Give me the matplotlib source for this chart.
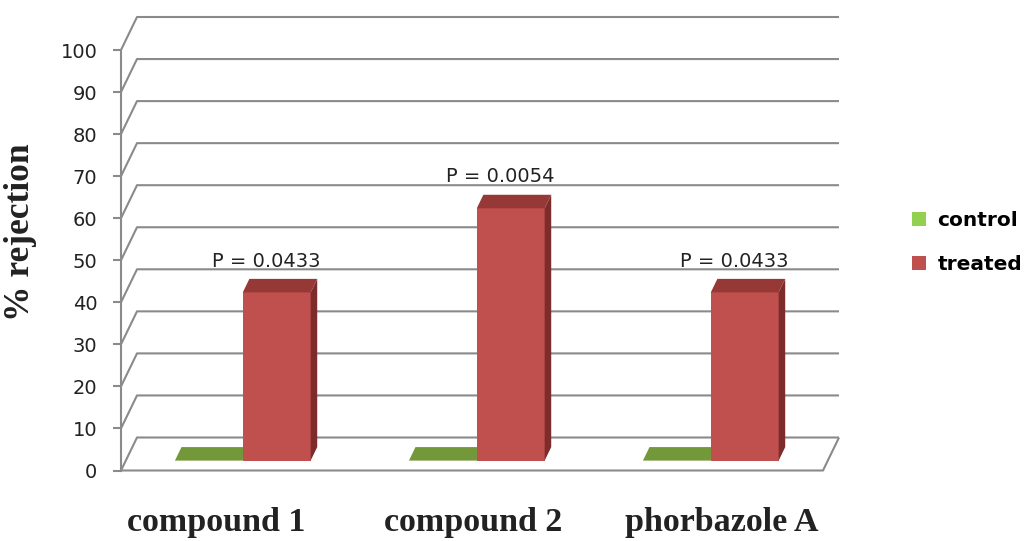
"""Pseudo-3D grouped bar chart: % rejection, control vs treated.

Excel-style oblique 3D look built from plain 2D bars + polygons.
"""
import matplotlib
matplotlib.use("Agg")
import matplotlib.pyplot as plt
from matplotlib.patches import Patch, Polygon

# ---- data ----
categories = ["compound 1", "compound 2", "phorbazole A"]
series_names = ["control", "treated"]
control = [0, 0, 0]
treated = [40, 60, 40]
p_values = ["P = 0.0433", "P = 0.0054", "P = 0.0433"]
y_ticks = list(range(0, 101, 10))

# ---- geometry (data units) ----
X_PX = 234.0          # pixels per category slot
Y_PX = 4.205          # pixels per % unit
DX = 16 / X_PX        # oblique shift for the full depth of the box
DY = 33 / Y_PX
BAR_W = 0.29
D_FRONT, D_BACK = 0.30, 0.71   # depth range the bars occupy

GRID = "#8a8a8a"
COLORS = {
    "control": ("#9BBB59", "#73983A", "#5E7D2E"),
    "treated": ("#C0504D", "#953836", "#7C2C2A"),
}
LEGEND_COLORS = ["#92D050", "#C0504D"]


def draw_box(ax, x0, h, face, top, side):
    """Bar at front-plane x0 with height h, drawn as front/side/top faces."""
    left = x0 + D_FRONT * DX
    base = D_FRONT * DY
    ddx = (D_BACK - D_FRONT) * DX
    ddy = (D_BACK - D_FRONT) * DY
    right = left + BAR_W
    if h > 0:
        ax.bar(left, h, BAR_W, bottom=base, align="edge", color=face,
               linewidth=0, zorder=3)
        ax.add_patch(Polygon([(right, base), (right + ddx, base + ddy),
                              (right + ddx, base + h + ddy), (right, base + h)],
                             closed=True, facecolor=side, lw=0, zorder=3))
    ax.add_patch(Polygon([(left, base + h), (right, base + h),
                          (right + ddx, base + h + ddy), (left + ddx, base + h + ddy)],
                         closed=True, facecolor=top, lw=0, zorder=3))


def main():
    n = len(categories)
    fig = plt.figure(figsize=(10.24, 5.41), dpi=100)
    ax = fig.add_axes([0, 0, 1, 1])
    ax.set_xlim(-121 / X_PX, (1024 - 121) / X_PX)
    ax.set_ylim(-(541 - 470.5) / Y_PX, 470.5 / Y_PX)

    # back wall gridlines + left wall diagonals
    grid_kw = dict(color=GRID, lw=1.5, zorder=1, solid_capstyle="butt")
    for v in y_ticks:
        ax.plot([0, DX, n + DX], [v, v + DY, v + DY], **grid_kw)
    # floor front edge and right edge
    ax.plot([0, n, n + DX], [0, 0, DY], **grid_kw)

    # front value axis
    for s in ["top", "right", "bottom"]:
        ax.spines[s].set_visible(False)
    ax.spines["left"].set_position(("data", 0))
    ax.spines["left"].set_bounds(0, 100)
    ax.spines["left"].set_color(GRID)
    ax.spines["left"].set_linewidth(1.5)
    ax.set_yticks(y_ticks)
    ax.tick_params(axis="y", length=6, width=1.5, color=GRID, pad=11,
                   labelsize=14, labelcolor="#222222")
    ax.set_xticks([])

    # bars
    for i in range(n):
        draw_box(ax, i + 0.5 - BAR_W, control[i], *COLORS["control"])
        draw_box(ax, i + 0.5, treated[i], *COLORS["treated"])
        ax.text(i + 0.5 + BAR_W / 2 - 0.045 + D_FRONT * DX, treated[i] + 8.5,
                p_values[i], ha="center", va="baseline", fontsize=14,
                color="#222222")

    # category labels
    label_x = [0.408, 1.506, 2.566]
    for x, name in zip(label_x, categories):
        ax.text(x, -14.4, name, ha="center", va="baseline", fontsize=24.5,
                fontweight="bold", family="Liberation Serif", color="#222222")

    # y label
    ax.text((20 - 121) / X_PX, (470.5 - 232) / Y_PX, "% rejection", rotation=90,
            ha="center", va="center", fontsize=25.5, fontweight="bold",
            family="Liberation Serif", color="#222222")

    handles = [Patch(facecolor=c, edgecolor="none", label=s)
               for s, c in zip(series_names, LEGEND_COLORS)]
    fig.legend(handles=handles, loc="upper left", bbox_to_anchor=(0.873, 0.643),
               frameon=False, handlelength=0.7, handleheight=0.7,
               handletextpad=0.55, labelspacing=1.25,
               prop=dict(size=14.5, weight="bold"))

    fig.savefig("out.png", dpi=100)


if __name__ == "__main__":
    main()
